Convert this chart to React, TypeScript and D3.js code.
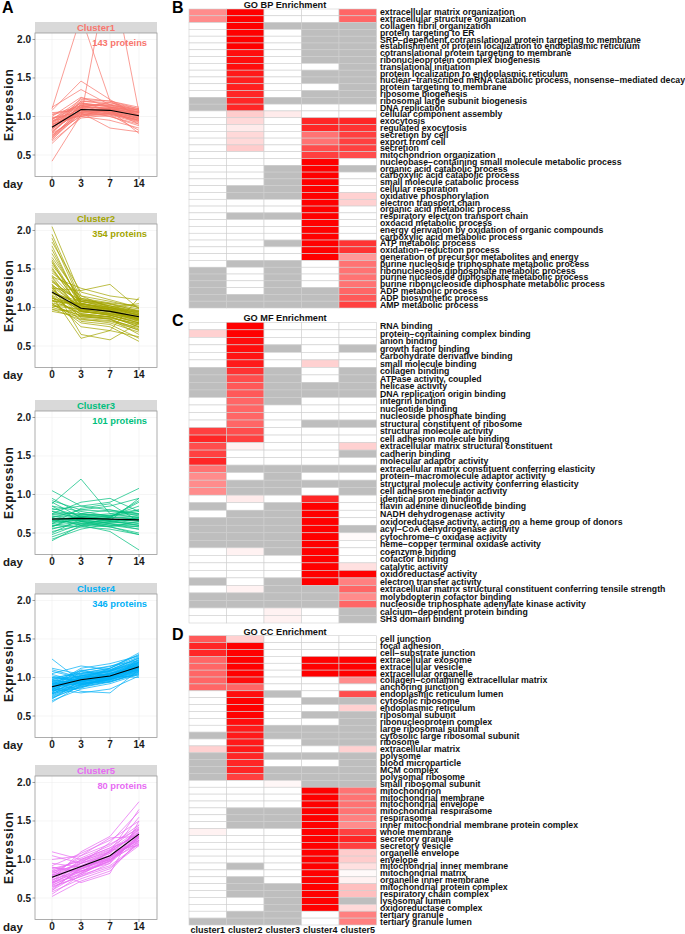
import * as d3 from 'd3';
import React from 'react';

// ---------- Panel A data ----------
const days = ['0', '3', '7', '14'];
const yTicks = [0.5, 1.0, 1.5, 2.0];
const clusterNames = ['Cluster1', 'Cluster2', 'Cluster3', 'Cluster4', 'Cluster5'];
const clusterColors = ['#F8766D', '#A3A500', '#00BF7D', '#00B0F6', '#E76BF3'];
const clusterCounts = [143, 354, 101, 346, 80];
const clusterMeans = [
  [0.86, 1.09, 1.08, 1.01],
  [1.2, 0.99, 0.95, 0.88],
  [0.68, 0.69, 0.68, 0.67],
  [0.88, 0.97, 1.02, 1.14],
  [0.77, 0.91, 1.05, 1.33],
];

const cluster1Profiles = [
  [0.42, 1.02, 1.08, 0.98], [0.65, 1.0, 1.05, 0.95], [0.7, 1.05, 1.1, 1.02], [0.72, 1.12, 1.12, 1.05],
  [0.75, 1.08, 1.0, 0.9], [0.78, 1.15, 1.15, 1.08], [0.8, 1.1, 1.05, 0.95], [0.82, 1.2, 1.18, 1.1],
  [0.84, 1.05, 1.02, 0.92], [0.85, 1.12, 1.1, 1.04], [0.87, 1.08, 1.06, 0.98], [0.88, 1.18, 1.12, 1.06],
  [0.9, 1.02, 1.0, 0.88], [0.92, 1.14, 1.15, 1.08], [0.94, 1.1, 1.08, 1.0], [0.96, 1.22, 1.2, 1.1],
  [0.98, 1.06, 1.04, 0.96], [1.0, 1.25, 1.12, 1.02], [1.02, 1.12, 1.18, 1.08], [1.05, 1.08, 1.1, 1.05],
  [1.08, 1.46, 1.22, 1.0], [1.12, 1.35, 1.15, 1.06], [1.1, 2.3, 1.2, 1.0], [0.95, 1.0, 3.0, 1.05],
  [0.9, 1.05, 0.85, 0.8], [0.78, 1.0, 0.95, 0.85], [0.68, 0.98, 1.02, 0.82], [0.92, 1.18, 1.08, 0.78],
  [0.99, 1.0, 1.12, 1.08], [0.83, 1.24, 1.2, 1.12], [0.74, 1.06, 1.08, 0.9], [0.96, 1.15, 1.03, 0.94],
  [0.76, 1.04, 1.06, 0.97], [0.81, 1.09, 1.09, 1.01], [0.86, 1.13, 1.11, 1.03], [0.89, 1.06, 1.07, 0.99],
  [0.91, 1.11, 1.06, 0.97], [0.79, 1.16, 1.13, 1.06], [0.73, 1.02, 1.04, 0.93], [0.97, 1.17, 1.14, 1.05],
  [0.87, 1.03, 1.03, 0.95], [0.93, 1.2, 1.16, 1.09], [0.7, 1.09, 1.1, 1.0], [1.03, 1.14, 1.09, 1.02],
];
const cluster2Profiles = [
  [2.05, 1.15, 1.0, 0.9], [1.95, 1.1, 1.05, 0.95], [1.85, 1.2, 1.1, 1.0], [1.75, 1.05, 0.98, 0.85],
  [1.65, 1.12, 1.02, 0.92], [1.6, 0.95, 0.9, 0.8], [1.55, 1.08, 1.0, 0.95], [1.5, 1.0, 0.95, 0.82],
  [1.45, 1.15, 1.08, 1.0], [1.4, 0.92, 0.88, 0.75], [1.35, 1.05, 1.0, 0.9], [1.3, 0.98, 0.92, 0.85],
  [1.28, 1.1, 1.05, 0.98], [1.25, 0.9, 0.85, 0.72], [1.22, 1.02, 0.98, 0.9], [1.2, 0.95, 0.9, 0.8],
  [1.18, 1.08, 1.02, 0.95], [1.15, 0.88, 0.85, 0.7], [1.12, 1.0, 0.95, 0.88], [1.1, 0.92, 0.88, 0.78],
  [1.08, 1.05, 1.0, 0.92], [1.05, 0.85, 0.8, 0.68], [1.02, 0.98, 0.95, 0.85], [1.0, 0.9, 0.88, 0.75],
  [0.97, 0.95, 0.9, 0.82], [0.95, 0.88, 0.85, 0.65], [1.25, 1.22, 1.3, 0.98], [1.15, 0.6, 0.7, 0.62],
  [1.3, 0.65, 0.58, 0.8], [1.1, 0.75, 0.7, 1.13], [1.4, 1.25, 1.15, 1.1], [1.05, 0.8, 0.75, 0.56],
  [1.2, 0.82, 0.78, 0.6], [1.35, 0.95, 1.0, 1.05], [1.62, 1.02, 0.96, 0.88], [1.12, 1.04, 0.98, 0.94],
  [1.58, 1.05, 0.98, 0.9], [1.52, 0.98, 0.92, 0.86], [1.48, 1.1, 1.02, 0.94], [1.42, 1.02, 0.96, 0.84],
  [1.38, 0.96, 0.9, 0.8], [1.33, 1.08, 1.04, 0.96], [1.27, 1.0, 0.95, 0.87], [1.23, 0.94, 0.92, 0.83],
  [1.19, 1.04, 0.99, 0.91], [1.16, 0.97, 0.93, 0.86], [1.13, 0.91, 0.87, 0.77], [1.09, 1.03, 0.97, 0.89],
  [1.06, 0.96, 0.91, 0.84], [1.03, 0.89, 0.86, 0.79], [1.7, 1.08, 1.0, 0.93], [1.8, 1.02, 0.94, 0.87],
  [1.9, 1.06, 0.97, 0.84], [1.0, 1.12, 1.06, 1.02], [0.98, 0.84, 0.82, 0.71], [1.26, 0.86, 0.83, 0.74],
];
const cluster3Profiles = [
  [1.05, 0.85, 0.8, 0.75], [0.95, 0.75, 0.7, 0.9], [0.92, 0.8, 0.85, 0.95], [0.9, 0.7, 0.65, 0.6],
  [0.88, 1.2, 0.75, 0.7], [0.85, 0.78, 0.72, 0.8], [0.82, 0.72, 0.68, 0.65], [0.8, 0.85, 0.9, 1.08],
  [0.78, 0.68, 0.62, 0.55], [0.75, 0.75, 0.72, 0.85], [0.72, 0.65, 0.6, 0.58], [0.7, 0.8, 0.78, 0.75],
  [0.68, 0.7, 0.68, 0.62], [0.66, 0.62, 0.58, 0.5], [0.65, 0.72, 0.75, 0.8], [0.62, 0.68, 0.7, 0.68],
  [0.6, 0.58, 0.55, 0.48], [0.58, 0.75, 0.8, 0.72], [0.55, 0.65, 0.62, 0.6], [0.52, 0.6, 0.58, 0.65],
  [0.5, 0.68, 0.72, 0.78], [0.48, 0.62, 0.6, 0.55], [0.45, 0.58, 0.65, 0.7], [0.42, 0.55, 0.62, 0.58],
  [0.4, 0.6, 0.7, 0.92], [0.7, 0.6, 0.52, 0.28], [0.75, 0.9, 0.95, 0.78], [0.62, 0.82, 0.88, 0.65],
  [0.85, 0.65, 0.58, 0.48], [0.58, 0.72, 0.66, 0.95], [0.72, 0.7, 0.68, 0.66], [0.66, 0.68, 0.66, 0.7],
  [0.74, 0.72, 0.71, 0.69], [0.64, 0.66, 0.64, 0.63], [0.78, 0.74, 0.73, 0.74], [0.6, 0.64, 0.66, 0.6],
  [0.69, 0.66, 0.7, 0.72], [0.56, 0.62, 0.64, 0.68],
];
const cluster4Profiles = [
  [1.24, 0.95, 1.05, 1.15], [1.1, 1.0, 1.08, 1.2], [1.05, 1.15, 1.1, 1.25], [1.02, 0.92, 1.0, 1.1],
  [1.0, 1.05, 1.12, 1.3], [0.98, 0.98, 1.05, 1.18], [0.95, 1.08, 1.15, 1.22], [0.93, 0.9, 0.98, 1.08],
  [0.92, 1.02, 1.08, 1.2], [0.9, 0.95, 1.02, 1.12], [0.89, 1.0, 1.05, 1.16], [0.88, 0.92, 0.98, 1.1],
  [0.87, 1.05, 1.1, 1.25], [0.86, 0.97, 1.02, 1.14], [0.85, 0.88, 0.95, 1.05], [0.84, 1.0, 1.06, 1.18],
  [0.82, 0.95, 1.0, 1.12], [0.8, 0.9, 0.96, 1.08], [0.78, 1.02, 1.08, 1.22], [0.76, 0.92, 0.98, 1.1],
  [0.74, 0.88, 0.95, 1.06], [0.72, 0.96, 1.02, 1.15], [0.7, 0.85, 0.92, 1.04], [0.68, 0.9, 1.0, 1.12],
  [0.95, 0.82, 0.8, 1.1], [0.9, 1.12, 1.18, 1.28], [0.85, 0.8, 0.85, 1.02], [0.92, 0.98, 1.12, 1.32],
  [0.8, 1.08, 1.02, 1.0], [0.96, 0.93, 0.94, 1.05], [0.88, 1.1, 1.0, 1.2], [0.83, 0.86, 1.04, 1.16],
  [0.91, 0.99, 1.03, 1.13], [0.79, 0.94, 1.01, 1.19], [1.0, 0.96, 1.06, 1.09], [0.86, 1.03, 0.97, 1.24],
  [1.12, 1.04, 1.09, 1.21], [1.08, 0.99, 1.04, 1.17], [1.04, 0.94, 1.01, 1.13], [0.99, 1.01, 1.07, 1.19],
  [0.97, 0.91, 0.97, 1.07], [0.94, 1.03, 1.09, 1.23], [0.91, 0.96, 1.03, 1.15], [0.89, 0.93, 0.99, 1.11],
  [0.87, 0.99, 1.04, 1.17], [0.85, 0.94, 1.0, 1.13], [0.83, 0.91, 0.97, 1.09], [0.81, 0.98, 1.05, 1.2],
  [0.79, 0.87, 0.94, 1.07], [0.77, 0.95, 1.01, 1.14], [0.75, 0.91, 0.99, 1.12], [0.73, 0.89, 0.97, 1.1],
  [0.93, 1.06, 1.12, 1.27], [0.97, 1.09, 1.14, 1.29], [0.88, 0.96, 0.99, 1.03], [0.84, 1.02, 1.09, 1.26],
];
const cluster5Profiles = [
  [1.1, 1.0, 1.15, 1.3], [1.05, 0.95, 1.05, 1.25], [1.0, 1.05, 1.2, 1.4], [0.95, 0.9, 1.0, 1.2],
  [0.92, 1.08, 1.25, 1.5], [0.9, 0.85, 0.98, 1.28], [0.88, 0.98, 1.1, 1.35], [0.85, 0.92, 1.05, 1.22],
  [0.83, 1.02, 1.18, 1.45], [0.8, 0.88, 1.0, 1.3], [0.78, 0.95, 1.08, 1.38], [0.76, 0.9, 1.02, 1.25],
  [0.74, 0.85, 0.95, 1.32], [0.72, 1.0, 1.15, 1.42], [0.7, 0.8, 0.92, 1.2], [0.68, 0.92, 1.08, 1.55],
  [0.66, 0.85, 1.0, 1.28], [0.64, 0.78, 0.9, 1.18], [0.62, 0.88, 1.05, 1.4], [0.6, 0.82, 0.98, 1.3],
  [0.58, 0.75, 0.88, 1.22], [0.55, 0.8, 1.02, 1.35], [0.52, 0.72, 0.85, 1.25], [0.75, 1.1, 1.3, 1.75],
  [0.85, 0.7, 0.82, 1.5], [0.7, 0.95, 1.22, 1.62], [0.8, 1.05, 1.28, 1.3], [0.65, 0.78, 0.95, 1.45],
  [0.9, 0.82, 1.12, 1.18], [0.6, 0.9, 1.1, 1.65], [0.82, 0.95, 1.1, 1.36], [0.77, 0.9, 1.04, 1.31],
  [0.73, 0.88, 1.03, 1.29], [0.79, 0.97, 1.12, 1.39], [0.71, 0.84, 0.97, 1.24], [0.86, 0.99, 1.13, 1.33],
  [0.69, 0.87, 1.02, 1.34], [0.67, 0.82, 0.99, 1.27],
];
const clusterProfiles = [cluster1Profiles, cluster2Profiles, cluster3Profiles, cluster4Profiles, cluster5Profiles];
const panelTops = [22, 213, 400, 583, 765];

// ---------- Heatmap data (null = not available / grey) ----------
const heatColumns = ['cluster1', 'cluster2', 'cluster3', 'cluster4', 'cluster5'];
const G = null;

const bpLabels = [
  'extracellular matrix organization', 'extracellular structure organization', 'collagen fibril organization',
  'protein targeting to ER', 'SRP\u2212dependent cotranslational protein targeting to membrane',
  'establishment of protein localization to endoplasmic reticulum', 'cotranslational protein targeting to membrane',
  'ribonucleoprotein complex biogenesis', 'translational initiation', 'protein localization to endoplasmic reticulum',
  'nuclear\u2212transcribed mRNA catabolic process, nonsense\u2212mediated decay', 'protein targeting to membrane',
  'ribosome biogenesis', 'ribosomal large subunit biogenesis', 'DNA replication', 'cellular component assembly',
  'exocytosis', 'regulated exocytosis', 'secretion by cell', 'export from cell', 'secretion',
  'mitochondrion organization', 'nucleobase\u2212containing small molecule metabolic process',
  'organic acid catabolic process', 'carboxylic acid catabolic process', 'small molecule catabolic process',
  'cellular respiration', 'oxidative phosphorylation', 'electron transport chain', 'organic acid metabolic process',
  'respiratory electron transport chain', 'oxoacid metabolic process',
  'energy derivation by oxidation of organic compounds', 'carboxylic acid metabolic process', 'ATP metabolic process',
  'oxidation\u2212reduction process', 'generation of precursor metabolites and energy',
  'purine nucleoside triphosphate metabolic process', 'ribonucleoside diphosphate metabolic process',
  'purine nucleoside diphosphate metabolic process', 'purine ribonucleoside diphosphate metabolic process',
  'ADP metabolic process', 'ADP biosynthetic process', 'AMP metabolic process',
];
const bpValues = [
  [0.45, 1, 0, 0, 0.6], [0.45, 1, 0, 0, 0.6], [0, 1, G, G, G], [0, 1, 0, G, G], [0, 1, 0, G, G],
  [0, 1, 0, G, G], [0, 0.95, 0, G, G], [0, 0.95, 0, G, G], [0, 0.95, 0, 0, G], [0, 0.9, 0, G, G],
  [0, 0.88, 0, G, G], [0, 0.88, 0, 0, G], [0, 0.85, 0, G, G], [G, 0.85, G, G, G], [G, 0.85, 0, 0, 0],
  [0, 0.2, 0.08, 0, 0], [0, 0.15, 0, 0.85, 0.85], [0, 0.08, 0, 0.85, 0.8], [0, 0.15, 0, 0.55, 0.75],
  [0, 0.15, 0, 0.55, 0.75], [0, 0.2, 0, 0.7, 0.75], [0, 0, 0, 0.75, 0.7], [0, 0, 0, 1, 0],
  [0, 0, G, 1, G], [0, 0, G, 1, 0], [0, 0, G, 1, 0], [0, G, G, 1, 0], [0, G, G, 1, 0.18],
  [0, 0, 0, 1, 0.18], [0, 0, 0, 1, 0], [0, G, G, 1, 0], [0, 0, 0, 1, 0], [0, 0, 0, 1, 0],
  [0, 0, 0, 1, 0], [0, 0, G, 1, 0.8], [0, 0, 0, 1, 0.8], [0, 0, 0, 1, 0.4], [0, G, G, 0, 0.55],
  [G, 0, G, 0, 0.55], [G, 0, G, 0, 0.55], [G, 0, G, 0, 0.55], [G, 0, G, G, 0.6], [G, G, G, G, 0.65],
  [G, G, G, G, 0.75],
];

const mfLabels = [
  'RNA binding', 'protein\u2212containing complex binding', 'anion binding', 'growth factor binding',
  'carbohydrate derivative binding', 'small molecule binding', 'collagen binding', 'ATPase activity, coupled',
  'helicase activity', 'DNA replication origin binding', 'integrin binding', 'nucleotide binding',
  'nucleoside phosphate binding', 'structural constituent of ribosome', 'structural molecule activity',
  'cell adhesion molecule binding', 'extracellular matrix structural constituent', 'cadherin binding',
  'molecular adaptor activity', 'extracellular matrix constituent conferring elasticity',
  'protein\u2212macromolecule adaptor activity', 'structural molecule activity conferring elasticity',
  'cell adhesion mediator activity', 'identical protein binding', 'flavin adenine dinucleotide binding',
  'NADH dehydrogenase activity', 'oxidoreductase activity, acting on a heme group of donors',
  'acyl\u2212CoA dehydrogenase activity', 'cytochrome\u2212c oxidase activity',
  'heme\u2212copper terminal oxidase activity', 'coenzyme binding', 'cofactor binding', 'catalytic activity',
  'oxidoreductase activity', 'electron transfer activity',
  'extracellular matrix structural constituent conferring tensile strength', 'molybdopterin cofactor binding',
  'nucleoside triphosphate adenylate kinase activity', 'calcium\u2212dependent protein binding', 'SH3 domain binding',
];
const mfValues = [
  [0, 1, 0, 0, 0], [0.18, 1, 0, 0, 0], [0, 0.95, 0, 0, 0], [0, 0.95, G, 0, G], [0, 0.92, 0, 0, 0],
  [0, 0.9, 0, 0.18, 0], [G, 0.8, G, 0, G], [G, 0.7, G, 0, G], [G, 0.65, G, G, G], [G, 0.65, G, G, G],
  [0, 0.6, G, 0, 0], [0, 0.6, 0, 0, 0], [0, 0.6, 0, 0, 0], [0, 0.6, 0, G, G], [0.75, 0.7, 0, 0, 0],
  [0.85, 0.75, 0, 0, 0], [0.7, 0.05, 0, 0, 0.18], [0.75, 0, 0, 0, G], [0.85, 0, 0, 0, 0],
  [0.55, G, G, G, G], [0.45, 0, G, 0, 0], [0.45, G, G, G, G], [0.45, G, G, 0, G], [0, 0.08, 0, 0.85, 0],
  [G, 0, G, 1, 0], [0, G, G, 1, 0], [G, G, G, 1, 0], [G, G, G, 1, G], [G, G, G, 1, 0.02],
  [G, G, G, 1, 0], [0, 0.05, G, 1, 0], [0, 0, 0, 1, 0], [0, 0, 0, 1, 0.12], [0, 0, 0, 1, 1],
  [G, 0, G, 1, 0.5], [0, 0.05, G, G, 0.6], [G, G, G, G, 0.45], [G, G, G, G, 0.6], [0, 0, 0.05, 0, G],
  [0, 0, 0.05, 0, G],
];

const ccLabels = [
  'cell junction', 'focal adhesion', 'cell\u2212substrate junction', 'extracellular exosome', 'extracellular vesicle',
  'extracellular organelle', 'collagen\u2212containing extracellular matrix', 'anchoring junction',
  'endoplasmic reticulum lumen', 'cytosolic ribosome', 'endoplasmic reticulum', 'ribosomal subunit',
  'ribonucleoprotein complex', 'large ribosomal subunit', 'cytosolic large ribosomal subunit', 'ribosome',
  'extracellular matrix', 'polysome', 'blood microparticle', 'MCM complex', 'polysomal ribosome',
  'small ribosomal subunit', 'mitochondrion', 'mitochondrial membrane', 'mitochondrial envelope',
  'mitochondrial respirasome', 'respirasome', 'inner mitochondrial membrane protein complex', 'whole membrane',
  'secretory granule', 'secretory vesicle', 'organelle envelope', 'envelope', 'mitochondrial inner membrane',
  'mitochondrial matrix', 'organelle inner membrane', 'mitochondrial protein complex', 'respiratory chain complex',
  'lysosomal lumen', 'oxidoreductase complex', 'tertiary granule', 'tertiary granule lumen',
];
const ccValues = [
  [0.65, 0.18, 0, 0, 0], [0.85, 1, 0, 0, 0], [0.85, 1, 0, 0, 0], [0.6, 1, 0, 1, 1], [0.6, 1, 0, 1, 1],
  [0.6, 1, 0, 1, 1], [0.6, 0.95, 0, 0, 0.45], [0.6, 0.6, 0, 0, 0], [0, 0.95, G, 0, 0.7], [0, 1, 0, G, G],
  [0, 1, 0, 0, 0.18], [0, 1, 0, G, G], [0, 0.95, 0, 0, G], [0, 0.9, G, G, G], [G, 0.9, G, G, G],
  [0, 0.9, 0, G, G], [0.18, 0.9, 0, 0, 0.18], [G, 0.85, G, G, G], [G, 0.85, 0, 0, G], [G, 0.85, G, G, G],
  [G, 0.75, G, G, G], [0, 0, 0.03, G, G], [0, 0, 0, 1, 0.55], [0, 0, 0, 1, 0.55], [0, 0, 0, 1, 0.55],
  [0, G, G, 1, 0.55], [0, G, G, 1, 0.5], [0, G, G, 1, 0.45], [0.05, 0, 0, 1, 0.75], [0, 0, 0, 1, 0.85],
  [0, 0, 0, 1, 0.75], [0, 0, 0, 1, 0.2], [0, 0, 0, 1, 0.2], [0, G, 0, 1, 0.12], [0, 0, 0, 1, 0.02],
  [0, G, 0, 1, 0.05], [0, G, G, 1, 0.25], [0, G, G, 1, 0.25], [0, 0, G, 1, G], [0, 0, G, 1, 0.15],
  [0, G, G, 0, 0.5], [G, G, G, 0, 0.5],
];

const FONT = '"Liberation Sans", Arial, Helvetica, sans-serif';

function ClusterPanel({ idx }: { idx: number }) {
  const top = panelTops[idx];
  const left = 35;
  const right = 157;
  const plotTop = top + 11;
  const plotBottom = top + 154.5;
  const x = d3.scalePoint<string>().domain(days).range([52, 139]);
  const y = d3.scaleLinear().domain([0.221, 2.084]).range([plotBottom, plotTop]);
  const line = d3
    .line<number>()
    .x((_, i) => x(days[i]) as number)
    .y((d) => y(d));
  const color = clusterColors[idx];
  const clipId = `clip-${idx}`;
  return (
    <g>
      <defs>
        <clipPath id={clipId}>
          <rect x={left} y={plotTop} width={right - left} height={plotBottom - plotTop} />
        </clipPath>
      </defs>
      <rect x={left} y={top} width={right - left} height={11} fill="#D9D9D9" />
      <text x={(left + right) / 2} y={top + 8.6} textAnchor="middle" fontSize={9.5} fontWeight="bold" fill={color}>
        {clusterNames[idx]}
      </text>
      <rect x={left} y={plotTop} width={right - left} height={plotBottom - plotTop} fill="#fff" />
      {yTicks.map((t) => (
        <line key={t} x1={left} x2={right} y1={y(t)} y2={y(t)} stroke="#EFEFEF" strokeWidth={0.6} />
      ))}
      {days.map((d) => (
        <line key={d} x1={x(d)} x2={x(d)} y1={plotTop} y2={plotBottom} stroke="#EFEFEF" strokeWidth={0.6} />
      ))}
      <g clipPath={`url(#${clipId})`}>
        {clusterProfiles[idx].map((p, i) => (
          <path key={i} d={line(p) as string} fill="none" stroke={color} strokeWidth={0.9} strokeOpacity={0.8} />
        ))}
        <path d={line(clusterMeans[idx]) as string} fill="none" stroke="#000" strokeWidth={1.1} />
      </g>
      <rect
        x={left}
        y={plotTop}
        width={right - left}
        height={plotBottom - plotTop}
        fill="none"
        stroke="#9A9A9A"
        strokeWidth={0.8}
      />
      <text x={147} y={top + 24} textAnchor="end" fontSize={9.3} fontWeight="bold" fill={color}>
        {clusterCounts[idx]} proteins
      </text>
      {yTicks.map((t) => (
        <g key={t}>
          <line x1={left - 2.5} x2={left} y1={y(t)} y2={y(t)} stroke="#555" strokeWidth={0.6} />
          <text x={31} y={y(t) + 3.5} textAnchor="end" fontSize={10} fontWeight="bold" fill="#1a1a1a">
            {t.toFixed(1)}
          </text>
        </g>
      ))}
      {days.map((d) => (
        <g key={d}>
          <line x1={x(d)} x2={x(d)} y1={plotBottom} y2={plotBottom + 2.5} stroke="#555" strokeWidth={0.6} />
          <text x={x(d)} y={top + 165} textAnchor="middle" fontSize={10} fontWeight="bold" fill="#1a1a1a">
            {d}
          </text>
        </g>
      ))}
      <text x={3} y={top + 165.5} fontSize={11.5} fontWeight="bold" fill="#1a1a1a">
        day
      </text>
      <text
        transform={`translate(13, ${(plotTop + plotBottom) / 2}) rotate(-90)`}
        textAnchor="middle"
        fontSize={12}
        fontWeight="bold"
        letterSpacing={0.8}
        fill="#1a1a1a"
      >
        Expression
      </text>
    </g>
  );
}

function Heatmap({
  top,
  bottom,
  labels,
  values,
  title,
  letter,
  showColumns,
}: {
  top: number;
  bottom: number;
  labels: string[];
  values: (number | null)[][];
  title: string;
  letter: string;
  showColumns?: boolean;
}) {
  const x = d3.scaleBand<string>().domain(heatColumns).range([189, 376.5]);
  const y = d3
    .scaleBand<number>()
    .domain(labels.map((_, i) => i))
    .range([top, bottom]);
  const red = d3.interpolateRgb('#ffffff', '#ff0000');
  const rh = y.bandwidth();
  return (
    <g>
      <text x={172} y={top + 4} fontSize={16} fontWeight="bold" fill="#000">
        {letter}
      </text>
      <text x={285} y={top - 1.2} textAnchor="middle" fontSize={9.2} fontWeight="bold" fill="#111">
        {title}
      </text>
      {values.map((row, i) =>
        row.map((v, j) => (
          <rect
            key={`${i}-${j}`}
            x={x(heatColumns[j])}
            y={y(i)}
            width={x.bandwidth()}
            height={rh}
            fill={v === null ? '#BEBEBE' : red(v)}
            stroke="#CFCFCF"
            strokeWidth={0.6}
          />
        ))
      )}
      {/* row labels, stretched a touch sideways like the source */}
      <g transform="translate(380,0) scale(1.03,1)">
        {labels.map((l, i) => (
          <text key={l} x={0} y={(y(i) as number) + rh / 2 + 3} fontSize={8.5} fontWeight="bold" fill="#111">
            {l}
          </text>
        ))}
      </g>
      {showColumns &&
        heatColumns.map((c) => (
          <text
            key={c}
            x={(x(c) as number) + x.bandwidth() / 2}
            y={bottom + 8.2}
            textAnchor="middle"
            fontSize={9}
            fontWeight="bold"
            fill="#111"
          >
            {c}
          </text>
        ))}
    </g>
  );
}

export default function App() {
  return (
    <div style={{ position: 'absolute', left: 0, top: 0, background: '#fff' }}>
      <svg width={685} height={934} style={{ display: 'block', fontFamily: FONT }}>
        <rect width={685} height={934} fill="#fff" />
        <text x={2} y={13} fontSize={16} fontWeight="bold" fill="#000">
          A
        </text>
        {clusterNames.map((_, i) => (
          <ClusterPanel key={i} idx={i} />
        ))}
        <Heatmap top={9} bottom={308} labels={bpLabels} values={bpValues} title="GO BP Enrichment" letter="B" />
        <Heatmap top={322.3} bottom={623} labels={mfLabels} values={mfValues} title="GO MF Enrichment" letter="C" />
        <Heatmap
          top={635.7}
          bottom={925}
          labels={ccLabels}
          values={ccValues}
          title="GO CC Enrichment"
          letter="D"
          showColumns
        />
      </svg>
    </div>
  );
}
